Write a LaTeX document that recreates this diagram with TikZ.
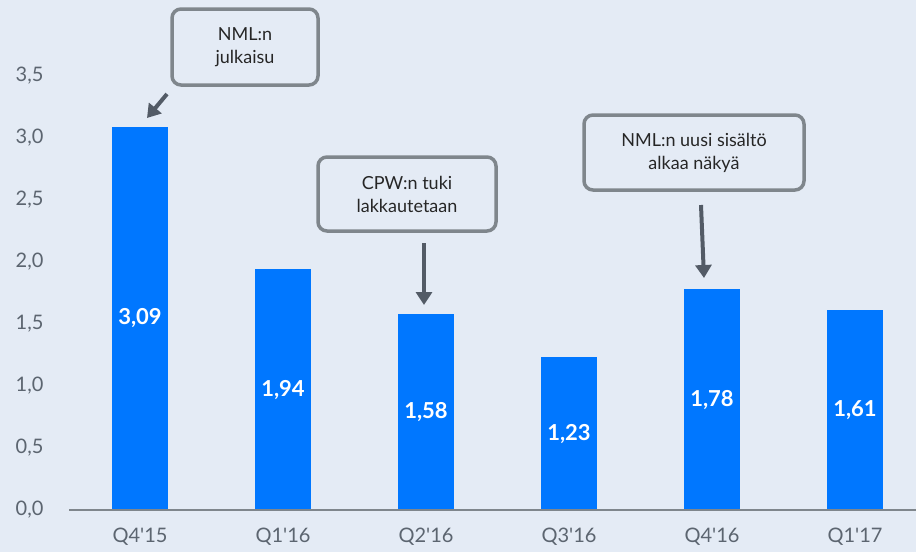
\documentclass[tikz,border=0pt]{standalone}
\usepackage{fontspec}
\setmainfont{Lato}
\definecolor{bg}{HTML}{E4EBF5}
\definecolor{barblue}{HTML}{0077FF}
\definecolor{boxgray}{HTML}{7F868C}
\definecolor{arrowgray}{HTML}{535B66}
\definecolor{axisgray}{HTML}{5C6570}
\usetikzlibrary{arrows.meta}
\begin{document}
\begin{tikzpicture}[x=1pt,y=-1pt,
  bar/.style={fill=barblue,draw=none},
  barlabel/.style={text=white,font=\fontsize{22}{22}\selectfont\bfseries},
  ylab/.style={anchor=east,text=axisgray,font=\fontsize{20}{20}\selectfont},
  xlab/.style={anchor=center,text=axisgray,font=\fontsize{20}{20}\selectfont},
  callout/.style={draw=boxgray,line width=3.5pt,rounded corners=9pt,fill=bg,align=center,
     font=\fontsize{18}{23}\selectfont,text=black!85,inner sep=0pt},
  pointer/.style={draw=arrowgray,line width=4pt,-{Triangle[length=13pt,width=16pt]}}]
\fill[bg] (0,0) rectangle (916,552);
\useasboundingbox (0,0) rectangle (916,552);
% y labels
\foreach \v/\t in {0/{0,0},0.5/{0,5},1/{1,0},1.5/{1,5},2/{2,0},2.5/{2,5},3/{3,0},3.5/{3,5}}
  \node[ylab] (y\v) at (47,{510-124*\v}) {\t};
% bars
\foreach \i/\v/\t/\q in {0/3.09/{3,09}/{Q4\textquotesingle 15},1/1.94/{1,94}/{Q1\textquotesingle 16},2/1.58/{1,58}/{Q2\textquotesingle 16},3/1.23/{1,23}/{Q3\textquotesingle 16},4/1.78/{1,78}/{Q4\textquotesingle 16},5/1.61/{1,61}/{Q1\textquotesingle 17}}{
  \fill[bar] ({112+143*\i},510) rectangle ({168+143*\i},{510-124*\v});
  \node[barlabel] (b\i) at ({140+143*\i},{510-62*\v}) {\t};
  \node[xlab] (x\i) at ({140+143*\i},537) {\q};
}
\draw[boxgray,line width=1.5pt] (69,510) -- (916,510);
% callouts
\node[callout,minimum width=146pt,minimum height=76pt] (c1) at (245,47) {NML:n\\julkaisu};
\node[callout,minimum width=178pt,minimum height=74pt] (c2) at (407,194) {CPW:n tuki\\lakkautetaan};
\node[callout,minimum width=220pt,minimum height=75pt] (c3) at (694,152.5) {NML:n uusi sisältö\\alkaa näkyä};
\coordinate (a1s) at (167,94); \coordinate (a1e) at (147,118);
\coordinate (a2s) at (424,243); \coordinate (a2e) at (424,305);
\coordinate (a3s) at (701,205); \coordinate (a3e) at (704,278);
\draw[pointer] (a1s) -- (a1e);
\draw[pointer] (a2s) -- (a2e);
\draw[pointer] (a3s) -- (a3e);
\end{tikzpicture}
\end{document}
